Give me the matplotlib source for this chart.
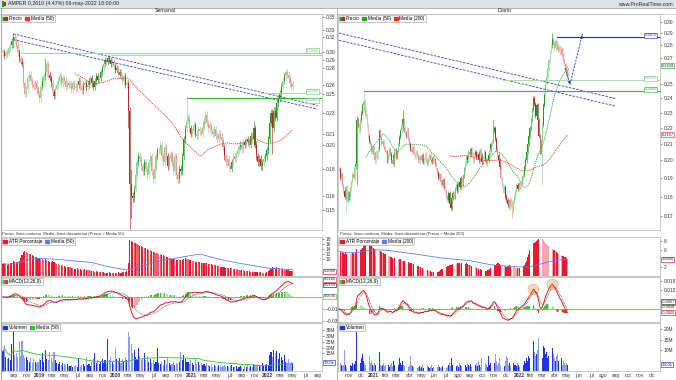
import numpy as np
import pandas as pd
import matplotlib
matplotlib.use("Agg")
import matplotlib.pyplot as plt
from matplotlib.patches import Patch, Rectangle
from matplotlib.lines import Line2D
from matplotlib.legend_handler import HandlerTuple
from matplotlib.ticker import FixedLocator, NullLocator, MaxNLocator, FuncFormatter

plt.rcParams["font.family"] = ["Liberation Sans", "DejaVu Sans"]

MESES = ["ene", "feb", "mar", "abr", "may", "jun",
         "jul", "ago", "sep", "oct", "nov", "dic"]


# ---------- WEEKLY DATA (Semanal) ---------- #

week_start = "2018-07-09"

close_w = [
    0.300, 0.295, 0.300, 0.298, 0.305, 0.310,
    0.315, 0.320, 0.318, 0.310,
    0.300, 0.292, 0.288, 0.285,
    0.262, 0.250, 0.255,
    0.268, 0.272, 0.265, 0.260, 0.258, 0.262, 0.255, 0.250,
    0.245, 0.258,
    0.265, 0.270, 0.275, 0.285, 0.272, 0.268, 0.262,
    0.252, 0.248, 0.255, 0.260,
    0.265, 0.270, 0.262, 0.268, 0.265, 0.258, 0.262, 0.260,
    0.260, 0.255, 0.262, 0.258, 0.256, 0.260, 0.265, 0.258, 0.254, 0.260, 0.262, 0.257, 0.260,
    0.265, 0.268, 0.262, 0.258, 0.264, 0.270, 0.266, 0.268,
    0.275, 0.280, 0.285, 0.290, 0.288, 0.292,
    0.290, 0.285, 0.288, 0.282,
    0.278, 0.280, 0.272, 0.275, 0.270,
    0.265, 0.270, 0.260, 0.262,
    0.232, 0.168,
    0.160, 0.158, 0.165,
    0.175, 0.185, 0.190, 0.188,
    0.182, 0.178, 0.185, 0.180,
    0.175, 0.185, 0.190, 0.178, 0.172, 0.180, 0.190, 0.195,
    0.195, 0.200, 0.190, 0.185, 0.198, 0.190, 0.182, 0.188, 0.192,
    0.185, 0.178, 0.190, 0.175, 0.172, 0.180, 0.178,
    0.190, 0.205, 0.215, 0.222, 0.225,
    0.215, 0.210, 0.212, 0.218, 0.210, 0.208, 0.214, 0.212, 0.210, 0.216,
    0.222, 0.228, 0.220, 0.215, 0.218,
    0.212, 0.210, 0.214, 0.208, 0.205, 0.210, 0.207, 0.204,
    0.198, 0.190, 0.185, 0.188, 0.182, 0.180, 0.185, 0.190, 0.188, 0.192,
    0.195, 0.198, 0.200, 0.196, 0.202, 0.200, 0.205, 0.203, 0.200, 0.208, 0.205,
    0.215, 0.200, 0.190, 0.185, 0.188,
    0.182, 0.185, 0.188, 0.190, 0.195,
    0.205, 0.220, 0.230, 0.215, 0.232,
    0.225, 0.240, 0.245, 0.250, 0.258,
    0.265, 0.270, 0.275, 0.272,
    0.268, 0.262, 0.258, 0.261,
]

# volume in millions
vol_w = [
    17, 22, 12, 10, 11, 9,
    23, 37, 14, 15, 12, 26, 13, 26, 14, 11, 12,
    9, 8, 11, 7, 10, 8,
    7, 8, 10, 9, 15, 8, 18,
    10, 9, 16, 11, 8, 16, 9,
    7, 6, 8, 5, 7, 6, 5, 6, 4,
    4, 5, 3, 4, 5, 3, 11, 4,
    5, 6, 4, 12, 5, 6, 4,
    8, 10, 15, 7, 9, 6, 8,
    10, 7, 9, 6, 27,
    9, 12, 8, 6,
    20, 10, 8, 11, 7,
    10, 8, 12, 9,
    33, 29, 23, 15, 18, 12,
    10, 20, 13, 9, 11,
    15, 9, 13, 8, 10,
    7, 9, 6, 8, 20,
    7, 6, 8, 5, 9, 6, 12, 7, 5, 6, 8, 5, 7, 6, 8,
    16, 9, 14, 10, 8,
    8, 6, 9, 7, 5, 10, 6, 8, 5, 7,
    5, 6, 4, 7, 5, 4, 6, 3, 5,
    4, 3, 5, 4, 3, 4, 5, 3, 4, 3, 4, 5, 3,
    3, 4, 2, 3, 4, 3, 2, 4, 3, 5, 3, 4, 3, 6,
    5, 4, 6, 4, 5, 7, 4, 5, 6, 5,
    14, 16, 12, 18, 15, 17, 10, 15,
    12, 9, 14, 8, 7, 10, 6, 8, 7,
]

# ATR percentage
atr_w = [
    8.2, 8.0, 7.9, 7.8, 8.1, 8.3, 8.6, 9.2, 9.0, 8.8, 8.9, 9.4,
    10.5, 11.8, 13.0, 13.2, 12.8,
    12.5, 12.2, 11.9, 11.6, 11.2, 11.0, 10.8, 10.5, 10.6, 10.2, 9.9, 9.8,
    9.9, 9.6, 9.3, 9.0, 8.9, 9.1, 8.8, 8.5, 8.2, 8.0, 7.8, 7.6, 7.4, 7.2, 7.0, 6.9,
    6.8, 6.7, 6.5, 6.4, 6.2, 6.1, 6.3, 6.0, 5.9, 5.8, 5.7, 5.9, 5.8, 5.6,
    5.5, 5.4, 5.3, 5.2, 5.0, 5.1, 4.9, 4.8, 4.9, 4.7, 4.8, 4.6, 4.5, 4.6, 4.7, 4.5,
    4.4, 4.6, 4.5, 4.4, 4.7, 4.6, 4.5, 4.8, 5.0, 4.9, 5.2,
    8.5, 17.6, 17.2,
    16.8, 16.4, 16.5, 16.0, 15.6, 15.3, 15.4, 15.0, 14.6, 14.4, 14.0, 13.8, 13.6, 13.2,
    13.0, 12.8, 12.6, 12.4,
    12.2, 12.0, 11.8, 11.5, 11.3, 11.0, 10.8, 10.6, 10.4, 10.2, 10.0, 9.9, 9.8, 9.6, 9.5, 9.6,
    9.8, 10.2, 10.4, 10.1, 9.9, 9.7, 9.5, 9.3, 9.2, 9.0, 8.9, 8.8, 8.7, 8.6, 8.5, 8.6, 8.4, 8.3,
    8.2, 8.0, 7.9, 7.8, 7.6, 7.5, 7.3, 7.2, 7.0, 6.9, 6.8, 6.7, 6.6, 6.5, 6.6, 6.4, 6.3, 6.2,
    6.1, 6.0, 5.9, 5.8, 5.7, 5.6, 5.5, 5.4, 5.3, 5.2, 5.1, 5.0, 4.9, 4.8, 4.7, 5.0, 4.9, 4.8,
    4.7, 4.6, 4.5, 4.6, 4.7,
    5.2, 5.8, 6.2, 6.8, 6.6, 6.5, 6.7,
    6.4, 6.3, 6.1, 6.2, 6.0, 5.8, 5.7, 5.5, 5.4, 5.3, 5.2,
]

# weeks with long shadows
wick_w_idx = [7, 29, 86, 87, 88, 126, 172, 185]
wick_w_high = [0.326, 0.292, 0.265, 0.236, 0.180, 0.246, 0.222, 0.233]
wick_w_low = [0.305, 0.268, 0.215, 0.138, 0.145, 0.219, 0.198, 0.192]


# ---------- DAILY DATA (Diario, one candle every two sessions) ---------- #

day_start = "2020-10-07"

close_d = [
    0.195, 0.190, 0.192, 0.186,
    0.183, 0.180, 0.185, 0.178, 0.182, 0.179, 0.184,
    0.188, 0.192, 0.190, 0.196, 0.198,
    0.225,
    0.222, 0.218, 0.225, 0.230, 0.235,
    0.238, 0.232, 0.228, 0.222,
    0.215, 0.212, 0.210, 0.205, 0.208, 0.203, 0.200, 0.205, 0.202, 0.207,
    0.218, 0.214, 0.210, 0.212, 0.208, 0.206,
    0.205, 0.200, 0.203, 0.207, 0.204, 0.200, 0.198, 0.203, 0.206, 0.202, 0.205, 0.210,
    0.214, 0.218, 0.222, 0.226, 0.220, 0.217, 0.215, 0.219, 0.213,
    0.210, 0.207, 0.205, 0.208, 0.204, 0.202, 0.205, 0.203, 0.200,
    0.202, 0.200, 0.203, 0.199, 0.201, 0.204, 0.200, 0.198, 0.201, 0.203, 0.200, 0.199, 0.202, 0.200, 0.198,
    0.195, 0.193, 0.190, 0.192, 0.188, 0.186, 0.189, 0.185, 0.183,
    0.180, 0.178, 0.182, 0.176, 0.174, 0.179, 0.182, 0.180, 0.184,
    0.186, 0.183, 0.188, 0.185, 0.190, 0.187, 0.191,
    0.195, 0.198, 0.202, 0.200, 0.205, 0.203, 0.207, 0.204, 0.200, 0.203, 0.205,
    0.202, 0.204, 0.200, 0.206, 0.203, 0.199, 0.202, 0.205, 0.201, 0.198, 0.200, 0.203, 0.206, 0.210, 0.212,
    0.218, 0.220, 0.213, 0.207, 0.203, 0.200, 0.196,
    0.190, 0.186, 0.183, 0.185, 0.180, 0.178,
    0.176, 0.174, 0.178, 0.175, 0.172, 0.177,
    0.180, 0.183, 0.186, 0.184, 0.187, 0.185, 0.188, 0.190, 0.192,
    0.196, 0.200, 0.205, 0.210, 0.215, 0.220,
    0.225, 0.232, 0.240, 0.236,
    0.228, 0.235, 0.225, 0.215, 0.205, 0.212, 0.222,
    0.235, 0.242, 0.250, 0.255, 0.262, 0.268, 0.275,
    0.280, 0.285, 0.282, 0.278, 0.284, 0.280,
    0.276, 0.279, 0.274, 0.277, 0.272,
    0.268, 0.265, 0.260, 0.256, 0.261,
]

vol_d = [
    3, 4, 3, 2.5, 3,
    10, 3, 2, 4, 9, 3, 2.5, 4, 3, 3.5, 5,
    18.5, 7, 5, 4, 6, 8, 5, 4, 3,
    4, 3, 7, 4, 5,
    3, 2.5, 4, 3, 2, 4, 9.3, 3, 2.5,
    3, 4, 2.5, 3, 5, 3, 2, 3, 4, 2.5, 5, 3, 6, 4, 3,
    6, 4, 3, 5, 3, 2.5, 4, 3, 2, 3, 7, 3, 2.5, 2, 3,
    2, 1.5, 2, 2.5, 1.5, 2, 3, 1.5, 2, 1.5, 2.5, 2, 1.5, 2, 3,
    1.5, 2, 2.5, 1.5, 2, 3, 2, 1.5, 2, 2.5, 3, 2, 1.5, 2,
    3, 4, 2.5, 6, 3, 2, 3.5, 2.5, 3, 2, 4, 3, 2.5,
    3, 4.5, 3, 2, 4, 3, 2.5, 3.5, 2, 3, 2.5,
    3, 4, 2.5, 5, 3, 2, 6, 3, 2.5, 4, 3, 2, 7, 3, 4,
    3, 5, 4, 8, 5, 3, 4, 6, 3,
    4, 3, 2.5, 5, 7, 6, 3, 4, 2.5, 3, 4, 3,
    3, 2.5, 4, 3, 2, 3.5, 4, 3, 5, 4, 6, 5, 7, 6, 9,
    21, 14.5, 9, 7, 8, 10,
    16, 13, 9, 6, 12,
    11, 8, 9, 6, 7, 9,
    10, 11, 8, 6, 5, 7,
    8, 5, 4, 6, 3, 5, 4, 3, 4, 3,
]

atr_d = [
    5.6, 5.5, 5.3, 5.4, 5.2, 5.1, 5.3, 5.0, 5.2, 5.4, 5.1, 5.0, 5.2, 5.3, 5.1, 5.4,
    6.2, 6.0, 5.8, 5.9, 6.2, 6.4, 6.8, 7.1,
    7.3, 7.4, 7.2, 7.0,
    6.8, 6.7, 6.5, 6.3, 6.2, 6.0, 5.9, 6.1, 5.8, 5.6, 5.5, 5.3, 5.2, 5.0, 4.9, 4.7, 4.6, 4.5,
    4.3, 4.2, 4.0, 3.9, 4.1, 3.8, 3.7, 3.6, 3.8, 3.9, 3.7, 3.5, 3.4, 3.3, 3.2, 3.3, 3.1,
    3.0, 2.9, 3.0, 2.8,
    2.7, 2.6, 2.5, 2.3, 2.2, 2.1, 2.0, 1.9, 1.8, 1.7, 1.6, 1.5, 1.4, 1.3, 1.2, 1.1, 1.0,
    0.9, 0.8, 0.8, 0.7,
    0.9, 1.0, 1.2, 1.3, 1.5, 1.6, 1.8, 1.9, 2.0, 2.2, 2.3, 2.4, 2.5, 2.6, 2.7, 2.8, 2.9,
    2.8, 2.9, 3.0, 2.9, 2.8, 2.9, 2.8, 2.7, 2.8, 2.9, 2.7, 2.6, 2.5,
    2.4, 2.3, 2.2, 2.1, 2.0, 1.9, 1.8, 1.7, 1.6, 1.5, 1.4, 1.3, 1.3, 1.2, 1.2, 1.3, 1.4,
    1.6, 1.8, 2.0, 2.2, 2.4, 2.6, 2.8, 3.0, 2.9, 2.8, 2.6, 2.4,
    2.3, 2.2, 2.1, 2.0, 2.2, 2.3, 2.4, 2.3, 2.2, 2.1, 2.0, 1.9, 1.8, 1.9, 1.8, 1.9, 2.0,
    2.1, 2.3, 2.6, 3.0, 3.5, 4.2, 5.0, 5.8, 6.5,
    7.0, 7.4, 7.6, 7.8, 8.0, 8.2, 8.4, 8.6, 8.7,
    8.4, 8.1, 7.8, 7.5, 7.2, 7.0, 6.8, 6.5, 6.3, 6.1, 6.0, 5.8, 5.6, 5.5, 5.3, 5.1, 5.0,
    4.8, 4.6, 4.5, 4.3, 4.2, 4.0, 3.8,
]

wick_d_idx = [6, 16, 22, 57, 138, 155, 182, 191]
wick_d_high = [0.186, 0.228, 0.246, 0.232, 0.225, 0.178, 0.224, 0.290]
wick_d_low = [0.172, 0.186, 0.230, 0.218, 0.212, 0.169, 0.186, 0.278]


# ---------- DRAWN LEVELS ---------- #

w_chan_x = [7, 216]
w_chan_top = [0.325, 0.2375]
w_chan_bot = [0.317, 0.2337]
w_res_levels = [0.2994, 0.2960]
w_res_from = [12, 74]
w_sup_level, w_sup_from = 0.245, 126
w_sup2_level, w_sup2_from = 0.2506, 177

d_chan_x = [0, 247.5]
d_chan_top = [0.2903, 0.2398]
d_chan_bot = [0.2843, 0.2345]
d_sup_level, d_sup_from = 0.245, 22
d_sup2_level, d_sup2_from = 0.2529, 147
d_target_level, d_target_from = 0.2870, 195
d_path_x = [202.5, 207, 218.4]
d_path_y = [0.262, 0.250, 0.2906]


# ---------- INDICATORS ---------- #

def ohlc(close, wick, idx, hi, lo):
    c = np.array(close, dtype=float)
    o = np.r_[c[0], c[:-1]]
    h = np.maximum(o, c) * (1 + wick)
    l = np.minimum(o, c) * (1 - wick)
    for i, a, b in zip(idx, hi, lo):
        h[i] = max(h[i], a)
        l[i] = min(l[i], b)
    return o, h, l, c


def macd(c, fast, slow, sig):
    s = pd.Series(c)
    m = s.ewm(span=fast, adjust=False).mean() - s.ewm(span=slow, adjust=False).mean()
    sg = m.ewm(span=sig, adjust=False).mean()
    return m.values, sg.values, (m - sg).values


o_w, h_w, l_w, c_w = ohlc(close_w, 0.015, wick_w_idx, wick_w_high, wick_w_low)
x_w = np.arange(len(c_w))
v_w = np.array(vol_w, dtype=float)
a_w = np.array(atr_w, dtype=float)
atr_w_ma = pd.Series(a_w).rolling(50, min_periods=1).mean().values
m_w, s_w, hist_w = macd(c_w, 12, 26, 9)
ma_w = pd.Series(c_w).rolling(50).mean().values
vma_w = pd.Series(v_w).rolling(50, min_periods=1).mean().values

o_d, h_d, l_d, c_d = ohlc(close_d, 0.006, wick_d_idx, wick_d_high, wick_d_low)
x_d = np.arange(len(c_d))
v_d = np.array(vol_d, dtype=float)
a_d = np.array(atr_d, dtype=float)
atr_d_ma = pd.Series(a_d).rolling(100, min_periods=1).mean().values
m_d, s_d, hist_d = macd(c_d, 6, 13, 4.5)
ma50_d = pd.Series(c_d).rolling(25).mean().values
ma200_d = pd.Series(c_d).rolling(100).mean().values

t_w = pd.date_range("2018-09-01", "2022-09-01", freq="2MS")
pos_w = ((t_w - pd.Timestamp(week_start)).days / 7).values
lab_w = [str(t.year) if t.month == 1 else MESES[t.month - 1] for t in t_w]

t_d = pd.date_range("2020-11-01", "2022-12-01", freq="MS")
pos_d = np.busday_count(np.datetime64(day_start),
                        t_d.values.astype("datetime64[D]")) / 2
lab_d = [str(t.year) if t.month == 1 else MESES[t.month - 1] for t in t_d]


# ---------- FIGURE ---------- #

W, H = 676, 380
fig = plt.figure(figsize=(6.76, 3.8), dpi=100)
fig.patch.set_facecolor("white")


def px_axes(x0, y0, x1, y1):
    ax = fig.add_axes([x0 / W, 1 - y1 / H, (x1 - x0) / W, (y1 - y0) / H])
    for s in ax.spines.values():
        s.set_linewidth(0.5)
        s.set_color("#b4b4b4")
    ax.yaxis.tick_right()
    ax.tick_params(axis="y", labelsize=3.5, length=1.5, width=0.4, pad=1,
                   colors="#333333")
    ax.tick_params(axis="x", bottom=False, labelbottom=False)
    return ax


def small_legend(ax, handles, labels):
    leg = ax.legend(handles, labels, loc="upper left", bbox_to_anchor=(0, 1),
                    ncol=len(labels), fontsize=3.4, frameon=True, fancybox=False,
                    edgecolor="#9a9a9a", framealpha=1, borderpad=0.25,
                    handlelength=0.9, handleheight=0.7, handletextpad=0.3,
                    columnspacing=0.6, borderaxespad=0.15,
                    handler_map={tuple: HandlerTuple(ndivide=None, pad=0)})
    leg.get_frame().set_linewidth(0.4)
    leg.set_zorder(10)


def axis_boxes(ax, items, gap=5.5):
    """value boxes on the right axis; stacked so they don't collide,
    and tick labels under them are dropped"""
    lo, hi = ax.get_ylim()
    y0 = ax.transData.transform((0, lo))[1]
    y1 = ax.transData.transform((0, hi))[1]
    vals = [min(max(v, lo), hi) for v, _, _ in items]
    ys = [ax.transData.transform((0, v))[1] for v in vals]
    order = np.argsort(ys)
    placed = {}
    last = -1e9
    for j in order:
        placed[j] = max(ys[j], last + gap, y0 + 2.5)
        last = placed[j]
    top = y1 - 2.5
    for j in order[::-1]:
        if placed[j] > top:
            placed[j] = top
        top = placed[j] - gap
    for j, (v, text, ec) in enumerate(items):
        ax.annotate(text, xy=(1, vals[j]), xycoords=ax.get_yaxis_transform(),
                    xytext=(1.2, (placed[j] - ys[j]) * 0.72), textcoords="offset points",
                    fontsize=2.9, va="center", ha="left", color="#222222",
                    annotation_clip=False,
                    bbox=dict(boxstyle="square,pad=0.12", fc="white", ec=ec, lw=0.45))
    keep = []
    for t in ax.get_yticks():
        if not (lo <= t <= hi):
            continue
        yt = ax.transData.transform((0, t))[1]
        if all(abs(yt - p) > gap for p in placed.values()):
            keep.append(t)
    ax.yaxis.set_major_locator(FixedLocator(keep))


def level_box(ax, val, text, ec, xfrac=0.99, va="bottom"):
    ax.text(xfrac, val, text, transform=ax.get_yaxis_transform(), ha="right",
            va=va, fontsize=3.0, color=ec, zorder=6,
            bbox=dict(boxstyle="square,pad=0.12", fc="white", ec=ec, lw=0.4))


def draw_column(x0, x1, x, o, h, l, c, vol, atr, atr_ma, mline, msig, mhist,
                xlim, width, ticks_pos, ticks_lab, atr_fall_col):
    axp = px_axes(x0, 14, x1, 230)
    axa = px_axes(x0, 237, x1, 276)
    axm = px_axes(x0, 277, x1, 322)
    axv = px_axes(x0, 323, x1, 371)
    for ax in (axp, axa, axm, axv):
        ax.set_xlim(*xlim)

    # candles
    busy = vol > pd.Series(vol).rolling(20, min_periods=1).mean().values
    up = c >= o
    ccol = list(np.where(up, np.where(busy, "#1e9e1e", "#8fd48f"),
                         np.where(busy, "#b02828", "#e59a9a")))
    axp.set_yscale("log")
    axp.vlines(x, l, h, colors=ccol, linewidth=0.45)
    axp.bar(x, np.maximum(np.abs(c - o), c * 0.004), bottom=np.minimum(o, c),
            width=width, color=ccol, linewidth=0)

    # ATR percentage
    rising = np.r_[True, np.diff(atr) >= 0] | ~up
    axa.bar(x, atr, width=width, color=list(np.where(rising, "#f01530", atr_fall_col)),
            linewidth=0)
    axa.plot(x, atr_ma, color="#5b7cf0", linewidth=0.6)

    # MACD
    hup = np.r_[True, np.diff(mhist) >= 0]
    hcol = np.where(mhist >= 0, np.where(hup, "#3cc43c", "#a6e6a6"),
                    np.where(hup, "#f2a6a6", "#dc3a3a"))
    axm.bar(x, mhist, width=width, color=list(hcol), linewidth=0)
    axm.axhline(0, color="#8c8cf0", linewidth=0.6)
    axm.plot(x, mline, color="#ee1c25", linewidth=0.7)
    axm.plot(x, msig, color="#222222", linewidth=0.5, linestyle=(0, (1, 1.2)))
    lo, hi = min(mline.min(), msig.min()), max(mline.max(), msig.max())
    axm.set_ylim(lo * 1.15, hi * 1.3)
    axm.yaxis.set_major_locator(MaxNLocator(5))

    # volume
    axv.bar(x, vol, width=width, color=list(np.where(up, "#1d35ea", "#8d9df2")),
            linewidth=0)
    axv.yaxis.set_major_formatter(FuncFormatter(
        lambda v, p: f"{int(round(v))}M" if v >= 10 else f"{int(round(v * 1000))}k"))
    axv.set_xticks(ticks_pos)
    axv.set_xticklabels(ticks_lab)
    axv.tick_params(axis="x", labelbottom=True, length=0, pad=1.5,
                    labelsize=3.6, colors="#333333")
    for t in axv.get_xticklabels():
        if t.get_text().isdigit():
            t.set_fontweight("bold")
    return axp, axa, axm, axv


# ---------- LEFT: SEMANAL ---------- #

axp, axa, axm, axv = draw_column(1, 322, x_w, o_w, h_w, l_w, c_w, v_w, a_w, atr_w_ma,
                                 m_w, s_w, hist_w, (-1.4, 219), 0.75, pos_w, lab_w,
                                 "#f4606f")

axp.set_ylim(0.1376, 0.3547)
axp.yaxis.set_major_locator(FixedLocator(
    [0.35, 0.33, 0.32, 0.30, 0.29, 0.28, 0.26, 0.25, 0.23, 0.21, 0.20, 0.18, 0.16, 0.15]))
axp.yaxis.set_minor_locator(NullLocator())
axp.yaxis.set_major_formatter(FuncFormatter(lambda v, p: f"{v:.2f}"))

axp.plot(x_w, ma_w, color="#ff2a2a", linewidth=0.6, linestyle=(0, (1.5, 1)))
for ys in (w_chan_top, w_chan_bot):
    axp.plot(w_chan_x, ys, color="#3a3ab8", linewidth=0.6, linestyle=(0, (3, 1.5)))
for lev, start in zip(w_res_levels, w_res_from):
    axp.plot([start, 219], [lev, lev], color="#9ed69e", linewidth=0.7)
axp.plot([w_sup_from, 219], [w_sup_level] * 2, color="#2fb52f", linewidth=0.8)
axp.plot([w_sup2_from, 219], [w_sup2_level] * 2, color="#a8dca8", linewidth=0.7)
level_box(axp, w_res_levels[0], f"{w_res_levels[0]:.4f}", "#6cc46c")
level_box(axp, w_sup2_level, f"{w_sup2_level:.4f}", "#6cc46c")
level_box(axp, w_sup_level, f"{w_sup_level:.4f}", "#6cc46c", va="top")

axa.set_ylim(3.2, 18.9)
axa.yaxis.set_major_locator(FixedLocator([10, 12, 14, 16, 18]))

small_legend(axp, [(Patch(color="#1e9e1e"), Patch(color="#b02828")), Patch(color="#ff2a2a")],
             ["Precio", "Media (50)"])
small_legend(axa, [Patch(color="#f01530"), Patch(color="#5b7cf0")],
             ["ATR Porcentaje", "Media (50)"])
small_legend(axm, [(Patch(color="#3cc43c"), Patch(color="#dc3a3a"))], ["MACD(12,26,9)"])
axv.plot(x_w, vma_w, color="#2ec42e", linewidth=0.6)
axv.set_ylim(0, 41)
axv.yaxis.set_major_locator(FixedLocator([5, 10, 15, 20, 25, 30, 35]))
small_legend(axv, [Patch(color="#1d35ea"), Patch(color="#2ec42e")], ["Volumen", "Media (50)"])

axis_boxes(axa, [(a_w[-1], f"{a_w[-1]:.4f}", "#f01530")])
axis_boxes(axm, [(m_w[-1], f"{m_w[-1]:.4f}", "#ee1c25"),
                 (s_w[-1], f"{s_w[-1]:.4f}", "#222222"),
                 (hist_w[-1], f"{hist_w[-1]:.4f}", "#3cc43c")])
axis_boxes(axv, [(v_w[-1], f"{v_w[-1] * 1000:.0f}k", "#1d35ea")])


# ---------- RIGHT: DIARIO ---------- #

axp2, axa2, axm2, axv2 = draw_column(338, 660, x_d, o_d, h_d, l_d, c_d, v_d, a_d,
                                     atr_d_ma, m_d, s_d, hist_d, (-0.9, 287.6), 0.7,
                                     pos_d, lab_d, "#f7a6b1")

axp2.set_ylim(0.1632, 0.307)
axp2.yaxis.set_major_locator(FixedLocator(
    [0.30, 0.29, 0.28, 0.27, 0.26, 0.25, 0.24, 0.23, 0.22, 0.21, 0.20, 0.19, 0.18, 0.17]))
axp2.yaxis.set_minor_locator(NullLocator())
axp2.yaxis.set_major_formatter(FuncFormatter(lambda v, p: f"{v:.2f}"))

axp2.plot(x_d, ma50_d, color="#22a622", linewidth=0.6, linestyle=(0, (1.5, 1)))
axp2.plot(x_d, ma200_d, color="#ff2a2a", linewidth=0.6, linestyle=(0, (1.5, 1)))
for ys in (d_chan_top, d_chan_bot):
    axp2.plot(d_chan_x, ys, color="#3a3ab8", linewidth=0.6, linestyle=(0, (3, 1.5)))
axp2.plot([d_sup_from, 287.6], [d_sup_level] * 2, color="#2fb52f", linewidth=0.8)
axp2.plot([d_sup2_from, 287.6], [d_sup2_level] * 2, color="#a8dca8", linewidth=0.7)
axp2.plot([d_target_from, 287.6], [d_target_level] * 2, color="#2424d8", linewidth=0.8)
axp2.plot(d_path_x, d_path_y, color="#2a2ae0", linewidth=0.6, linestyle=(0, (2.5, 1.5)))
for i in (1, 2):
    xa = d_path_x[i - 1] + 0.85 * (d_path_x[i] - d_path_x[i - 1])
    ya = d_path_y[i - 1] * (d_path_y[i] / d_path_y[i - 1]) ** 0.85
    axp2.annotate("", xy=(d_path_x[i], d_path_y[i]), xytext=(xa, ya),
                  arrowprops=dict(arrowstyle="-|>", color="#2a2ae0", lw=0.5,
                                  mutation_scale=4))
level_box(axp2, d_target_level, f"{d_target_level:.4f}", "#2424d8")
level_box(axp2, d_sup2_level, f"{d_sup2_level:.4f}", "#6cc46c")
level_box(axp2, d_sup_level, f"{d_sup_level:.4f}", "#2fb52f")
axis_boxes(axp2, [(ma50_d[-1], f"{ma50_d[-1]:.4f}", "#22a622"),
                  (ma200_d[-1], f"{ma200_d[-1]:.4f}", "#ff2a2a")])

axa2.set_ylim(0, 8.85)
axa2.yaxis.set_major_locator(FixedLocator([2, 4, 6, 8]))

small_legend(axp2, [(Patch(color="#1e9e1e"), Patch(color="#b02828")),
                    Patch(color="#22a622"), Patch(color="#ff2a2a")],
             ["Precio", "Media (50)", "Media (200)"])
small_legend(axa2, [Patch(color="#f01530"), Patch(color="#5b7cf0")],
             ["ATR Porcentaje", "Media (200)"])
small_legend(axm2, [(Patch(color="#3cc43c"), Patch(color="#dc3a3a"))], ["MACD(12,26,9)"])
for a, b in [(165, 181), (185, 199)]:
    k = a + int(np.argmax(m_d[a:b]))
    axm2.scatter([k], [m_d[k]], s=60, facecolor="#ffd2b0", edgecolor="#f5a070",
                 linewidth=0.5, alpha=0.85, zorder=1.5)
axv2.set_ylim(0, 23)
axv2.yaxis.set_major_locator(FixedLocator([5, 10, 15, 20]))
small_legend(axv2, [Patch(color="#1d35ea")], ["Volumen"])

axis_boxes(axa2, [(a_d[-1], f"{a_d[-1]:.4f}", "#f01530")])
axis_boxes(axm2, [(m_d[-1], f"{m_d[-1]:.4f}", "#ee1c25"),
                  (s_d[-1], f"{s_d[-1]:.4f}", "#222222"),
                  (hist_d[-1], f"{hist_d[-1]:.4f}", "#dc3a3a")])
axis_boxes(axv2, [(v_d[-1], f"{v_d[-1] * 1000:.0f}k", "#1d35ea")])


# ---------- FRAME, TITLES ---------- #

fig.add_artist(Rectangle((0, 1 - 8 / H), 1, 8 / H, transform=fig.transFigure,
                         facecolor="#dde2e8", edgecolor="none"))
fig.add_artist(Rectangle((1.5 / W, 1 - 6.5 / H), 2 / W, 5 / H, transform=fig.transFigure,
                         facecolor="#1e9e1e", edgecolor="none"))
fig.add_artist(Rectangle((4 / W, 1 - 6 / H), 2 / W, 4 / H, transform=fig.transFigure,
                         facecolor="#d02020", edgecolor="none"))
fig.text(8 / W, 1 - 4 / H, "AMPER 0,2610 (4.47%) 06-may-2022 18:00:00",
         fontsize=3.8, va="center", color="#222222")
fig.text(673 / W, 1 - 4 / H, "www.ProRealTime.com", fontsize=3.8, va="center",
         ha="right", color="#222222")
fig.text(165 / W, 1 - 10.7 / H, "Semanal", fontsize=3.8, ha="center", va="center",
         color="#222222")
fig.text(505 / W, 1 - 10.7 / H, "Diario", fontsize=3.8, ha="center", va="center",
         color="#222222")
fig.add_artist(Line2D([0, 1], [1 - 8 / H] * 2, transform=fig.transFigure,
                      color="#a0a6ae", linewidth=0.6))
fig.add_artist(Line2D([0, 1], [1 - 13.5 / H] * 2, transform=fig.transFigure,
                      color="#c4c4c4", linewidth=0.5))
fig.add_artist(Line2D([337 / W] * 2, [0, 1 - 8 / H], transform=fig.transFigure,
                      color="#a8a8a8", linewidth=0.6))
fig.add_artist(Line2D([0.6 / W] * 2, [0, 1 - 8 / H], transform=fig.transFigure,
                      color="#a8a8a8", linewidth=0.8))

fig.text(2 / W, 1 - 233.5 / H,
         "Precio: línea continua, Media: línea discontinua (Precio > Media 50)",
         fontsize=3.0, va="center", color="#333333")
fig.text(340 / W, 1 - 233.5 / H,
         "Precio: línea continua, Media: línea discontinua (Precio > Media 200)",
         fontsize=3.0, va="center", color="#333333")

fig.savefig("out.png", dpi=100)
